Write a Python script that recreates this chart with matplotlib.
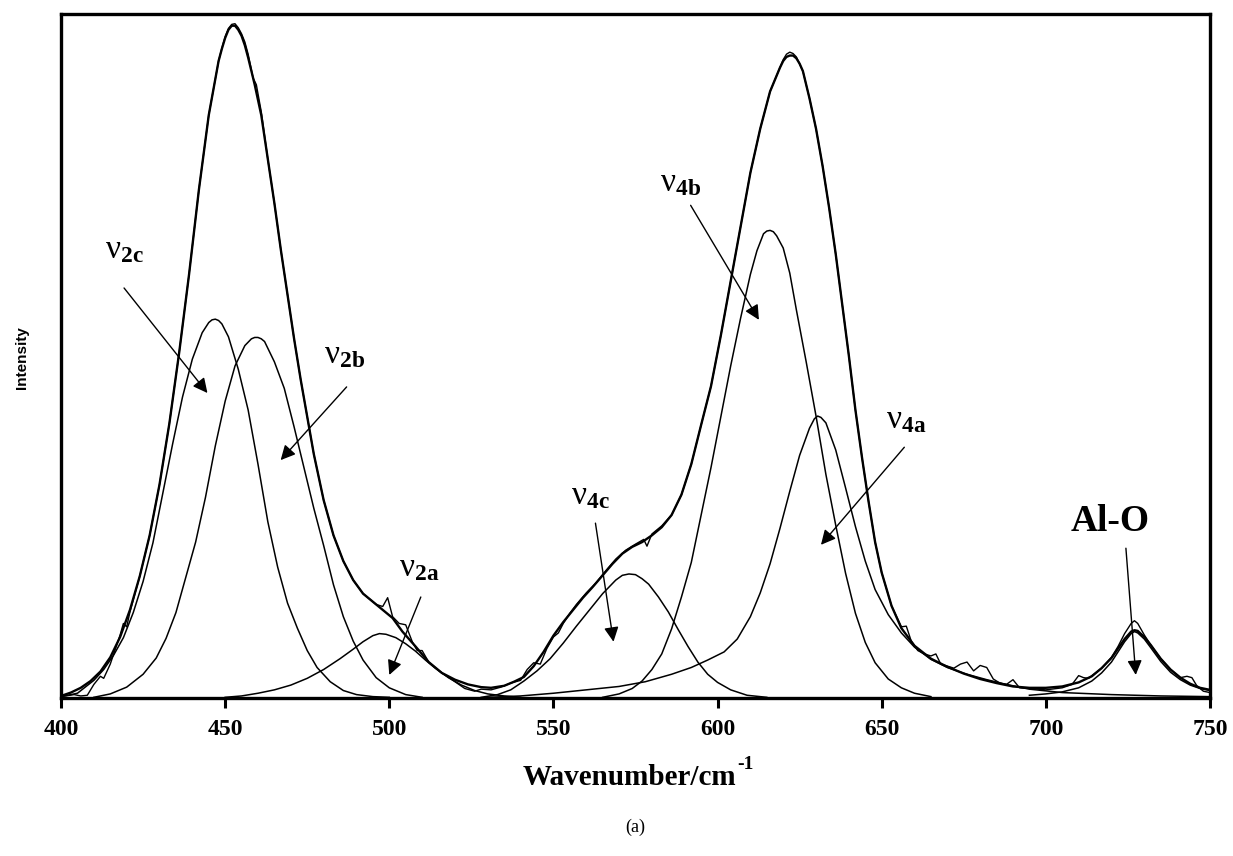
import matplotlib
matplotlib.use("Agg")
import matplotlib.pyplot as plt

plt.rcParams["mathtext.fontset"] = "custom"
plt.rcParams["mathtext.rm"] = "Liberation Serif"
plt.rcParams["mathtext.bf"] = "Liberation Serif:bold"
plt.rcParams["mathtext.it"] = "Liberation Serif:italic"

# fitted component bands (wavenumber, intensity)
v2c_x = [400, 405, 410, 413, 416, 419, 422, 425, 428, 431, 434, 437, 440, 443, 445, 446, 447, 448,
         449, 451, 454, 457, 460, 463, 466, 469, 472, 475, 478, 482, 486, 490, 495, 500]
v2c_y = [0.2, 0.7, 2.6, 4.2, 6.3, 8.9, 12.6, 17.2, 22.9, 30.2, 37.5, 44.4, 50.0, 53.9, 55.4, 55.8, 55.9, 55.7,
         55.2, 53.3, 48.5, 42.5, 34.5, 26.0, 19.3, 14.0, 10.3, 7.0, 4.5, 2.4, 1.1, 0.5, 0.2, 0.1]

v2b_x = [410, 415, 420, 425, 429, 432, 435, 438, 441, 444, 447, 450, 453, 456, 458, 459, 460, 461,
         462, 465, 468, 471, 474, 477, 480, 483, 486, 489, 492, 496, 500, 505, 510]
v2b_y = [0.1, 0.6, 1.6, 3.5, 5.9, 8.8, 12.6, 17.8, 23.0, 29.6, 37.2, 43.8, 49.0, 52.0, 53.0, 53.2, 53.2, 53.0,
         52.6, 49.6, 45.7, 40.0, 34.0, 28.0, 22.5, 16.7, 12.0, 8.4, 5.6, 3.0, 1.5, 0.5, 0.1]

v2a_x = [450, 455, 460, 465, 470, 475, 480, 485, 489, 492, 495, 497, 499, 502, 505, 508,
         511, 514, 518, 522, 526, 530, 535, 540]
v2a_y = [0.1, 0.3, 0.7, 1.2, 1.9, 2.9, 4.2, 5.8, 7.2, 8.3, 9.2, 9.5, 9.4, 8.9, 8.0, 6.9,
         5.6, 4.4, 3.0, 1.9, 1.1, 0.6, 0.3, 0.1]

v4c_x = [528, 533, 537, 541, 545, 549, 553, 557, 561, 565, 569, 571, 573, 575, 577, 579, 582, 585,
         588, 591, 594, 597, 600, 604, 609, 615]
v4c_y = [0.1, 0.5, 1.2, 2.5, 4.0, 5.8, 8.1, 10.6, 13.0, 15.4, 17.4, 18.1, 18.3, 18.2, 17.6, 16.8, 14.9, 12.7,
         10.1, 7.6, 5.3, 3.5, 2.3, 1.2, 0.4, 0.1]

v4b_x = [565, 570, 574, 577, 580, 583, 586, 589, 592, 595, 598, 601, 604, 607, 610, 612, 614, 615,
         616, 617, 618, 620, 622, 624, 627, 630, 633, 636, 639, 642, 645, 648, 652, 656, 660, 665]
v4b_y = [0.1, 0.6, 1.4, 2.5, 4.2, 6.5, 10.2, 14.9, 20.0, 27.0, 34.0, 41.5, 49.0, 56.0, 62.5, 66.0, 68.5, 68.9,
         69.0, 68.8, 68.2, 66.4, 62.7, 57.3, 49.6, 41.6, 33.0, 25.5, 18.4, 12.5, 8.2, 5.2, 2.8, 1.5, 0.7, 0.2]

v4a_x = [530, 540, 550, 560, 570, 578, 586, 592, 597, 602, 606, 610, 613, 616, 619, 622, 625,
         628, 629.5, 630.5, 631.5, 633, 636, 639, 642, 645, 648, 652, 656, 660, 665, 670, 676, 682,
         688, 695, 705, 720, 735, 750]
v4a_y = [0.1, 0.3, 0.7, 1.2, 1.7, 2.4, 3.5, 4.5, 5.6, 6.8, 8.7, 12.0, 15.5, 19.8, 25.0, 30.5, 35.8,
         39.8, 41.2, 41.6, 41.4, 40.6, 36.6, 31.0, 25.3, 20.2, 16.0, 12.3, 9.6, 7.5, 5.7, 4.5, 3.5, 2.7,
         2.0, 1.3, 0.8, 0.5, 0.3, 0.2]

alo_x = [695, 700, 705, 710, 714, 717, 720, 722, 724, 726, 727, 728, 730, 732, 735, 738, 741,
         744, 747, 750]
alo_y = [0.4, 0.6, 0.9, 1.5, 2.5, 3.7, 5.3, 6.8, 8.3, 9.5, 9.8, 9.6, 8.7, 7.4, 5.4, 3.8, 2.7,
         1.9, 1.4, 1.1]

# overall fitted envelope
fit_x = [400, 403, 406, 409, 412, 415, 418, 421, 424, 427, 430, 433, 436, 439, 442, 445, 448,
         449, 450, 451, 452, 453, 454, 455, 456, 457, 459, 461, 463, 465, 467, 469, 471, 473, 475,
         477, 480, 483, 486, 489, 492, 495, 498, 501, 504, 508, 512, 516, 520, 524, 528, 531, 535,
         538, 541, 544, 547, 550, 553, 556, 559, 562, 565, 568, 571, 574, 577, 580, 583, 586, 589,
         592, 595, 598, 601, 604, 607, 610, 613, 616, 619, 620, 621, 622, 623, 624, 625, 626, 628,
         630, 632, 634, 636, 638, 640, 642, 644, 646, 648, 650, 653, 656, 660, 665, 670, 675, 680,
         685, 690, 695, 700, 705, 710, 714, 717, 720, 722, 724, 726, 727, 728, 730, 732, 735, 738,
         741, 744, 747, 750]
fit_y = [0.3, 0.8, 1.5, 2.5, 3.9, 6.0, 9.0, 13.0, 18.0, 24.0, 31.5, 40.5, 51.0, 62.5, 75.0, 86.0, 94.0,
         95.8, 97.4, 98.6, 99.2, 99.2, 98.6, 97.7, 96.3, 94.5, 90.5, 86.0, 79.5, 73.0, 66.0, 59.5, 53.0, 47.0, 41.5,
         36.0, 29.2, 24.0, 20.2, 17.4, 15.4, 14.2, 13.0, 11.8, 9.8, 7.6, 5.3, 3.7, 2.7, 2.0, 1.6, 1.5, 1.8,
         2.4, 3.1, 4.7, 6.8, 9.2, 11.2, 13.0, 14.8, 16.4, 18.1, 19.8, 21.3, 22.3, 23.0, 24.0, 25.2, 27.0, 30.0,
         34.5, 40.3, 46.0, 53.5, 61.5, 69.5, 77.5, 84.0, 89.5, 93.0, 94.0, 94.6, 94.8, 94.8, 94.4, 93.6, 92.5, 88.5,
         84.0, 78.5, 72.3, 65.5, 58.0, 50.5, 42.5, 35.5, 29.0, 23.0, 18.5, 13.6, 10.3, 7.7, 5.8, 4.6, 3.6, 2.8,
         2.2, 1.7, 1.5, 1.5, 1.7, 2.3, 3.2, 4.4, 5.9, 7.3, 8.7, 9.8, 10.0, 9.9, 9.0, 7.8, 5.8, 4.2,
         3.0, 2.1, 1.5, 1.2]

# measured spectrum
obs_x = [400, 404, 406, 408, 410, 412, 413, 415, 418, 419, 420, 421, 424, 427, 430, 433, 436, 439,
         442, 445, 448, 449, 450, 451, 452, 453, 454, 455, 456, 457, 458.5, 459.5, 461, 463, 465,
         467, 469, 471, 473, 475, 477, 480, 483, 486, 489, 492, 494, 496, 498, 499.5, 501, 503,
         505, 507, 508.5, 510, 512, 516, 520, 523, 526, 528, 531, 534, 537, 540, 542, 544, 546,
         548, 550, 551.5, 553, 555, 557, 560, 563, 566, 569, 572, 575, 577.5, 578.5, 580, 583, 586,
         589, 592, 595, 598, 601, 604, 607, 610, 613, 616, 619, 620, 621, 622, 623, 624, 626, 628,
         630, 632, 634, 636, 638, 640, 642, 644, 646, 648, 650, 653, 656, 657.5, 659, 661, 663, 665,
         666.5, 668, 670, 672, 674, 676, 678, 680, 682, 684, 686, 688, 690, 692, 695, 700, 705, 708,
         710, 711.5, 713, 717, 720, 722, 724, 726, 727, 728, 730, 732, 735, 738, 741, 743, 744.5,
         746, 748, 750]
obs_y = [0.2, 0.5, 0.3, 0.4, 2.0, 3.2, 2.9, 5.0, 9.3, 11.0, 10.5, 12.7, 18.0, 24.0, 31.5, 40.5, 51.0, 62.5,
         75.0, 86.0, 94.0, 95.9, 97.6, 98.8, 99.4, 99.5, 98.9, 98.0, 96.8, 95.0, 91.5, 90.5, 86.5, 79.5, 73.0,
         66.0, 59.5, 53.0, 47.0, 41.5, 36.0, 29.2, 24.0, 20.2, 17.4, 15.4, 14.6, 13.8, 13.5, 14.8, 12.0, 11.0,
         10.8, 8.3, 7.0, 7.0, 5.3, 3.7, 2.4, 1.4, 1.0, 1.3, 1.2, 1.6, 2.2, 2.6, 4.2, 5.2, 5.0,
         7.3, 9.0, 9.6, 11.0, 12.5, 13.8, 15.5, 17.0, 18.8, 20.5, 21.8, 22.7, 23.4, 22.4, 24.2, 25.4, 27.0,
         30.0, 34.5, 40.3, 46.0, 53.5, 61.5, 69.5, 77.5, 84.0, 89.5, 93.0, 94.2, 95.0, 95.3, 95.1, 94.6, 92.5, 88.5,
         84.0, 78.5, 72.3, 65.5, 58.0, 50.5, 42.5, 35.5, 29.0, 23.0, 18.5, 13.6, 10.5, 10.6, 8.4, 7.0, 6.5, 6.2,
         6.5, 5.0, 4.7, 4.4, 5.0, 5.3, 4.0, 4.8, 4.5, 2.8, 2.2, 2.0, 2.7, 1.5, 1.4, 1.2, 1.5, 2.0,
         3.3, 3.0, 2.9, 4.4, 6.0, 7.6, 9.5, 11.0, 11.4, 11.0, 9.3, 7.8, 5.8, 4.2, 3.0, 3.2, 3.0,
         1.8, 1.0, 0.8]

xticks = [400, 450, 500, 550, 600, 650, 700, 750]

# band labels: text, label position, arrow start, arrow tip
labels = [r"$\mathrm{\nu}_{\mathbf{2c}}$", r"$\mathrm{\nu}_{\mathbf{2b}}$", r"$\mathrm{\nu}_{\mathbf{2a}}$",
          r"$\mathrm{\nu}_{\mathbf{4c}}$", r"$\mathrm{\nu}_{\mathbf{4b}}$", r"$\mathrm{\nu}_{\mathbf{4a}}$", "Al-O"]
label_pos = [(419.2, 66.1), (486.4, 50.6), (509.0, 19.2), (561.3, 29.8), (588.8, 76.1), (657.5, 41.0), (719.5, 26.0)]
arrow_from = [(419.2, 60.5), (487.0, 45.9), (509.6, 14.9), (562.8, 25.8), (591.8, 72.7), (656.9, 37.0), (724.4, 22.1)]
arrow_to = [(444.6, 45.0), (466.9, 35.1), (500.0, 3.4), (568.3, 8.3), (612.6, 55.8), (631.5, 22.6), (727.4, 3.4)]

fig = plt.figure(figsize=(12.33, 8.56), dpi=100)
ax = fig.add_axes([0.0495, 0.1846, 0.9318, 0.7996])

for cx, cy in [(v2c_x, v2c_y), (v2b_x, v2b_y), (v2a_x, v2a_y), (v4c_x, v4c_y),
               (v4b_x, v4b_y), (v4a_x, v4a_y), (alo_x, alo_y)]:
    ax.plot(cx, cy, color="black", lw=1.1)
ax.plot(fit_x, fit_y, color="black", lw=1.7)
ax.plot(obs_x, obs_y, color="black", lw=1.0)

for i, lab in enumerate(labels):
    size = 27 if lab == "Al-O" else 24
    ax.text(label_pos[i][0], label_pos[i][1], lab, fontsize=size, fontweight="bold",
            family="Liberation Serif", ha="center", va="center")
    ax.annotate("", xy=arrow_to[i], xytext=arrow_from[i],
                arrowprops=dict(arrowstyle="-|>", color="black", lw=1.0,
                                mutation_scale=22, shrinkA=0, shrinkB=0))

ax.set_xlim(400, 750)
ax.set_ylim(0, 101)
ax.set_xticks(xticks)
ax.set_yticks([])
ax.tick_params(axis="x", direction="out", length=7, width=2.2, pad=8)
for lbl in ax.get_xticklabels():
    lbl.set_fontfamily("Liberation Serif")
    lbl.set_fontweight("bold")
    lbl.set_fontsize(17)
for sp in ax.spines.values():
    sp.set_linewidth(2.4)

fig.text(0.597, 0.092, "Wavenumber/cm", fontsize=21, fontweight="bold",
         family="Liberation Serif", ha="right", va="center")
fig.text(0.598, 0.107, "-1", fontsize=14, fontweight="bold",
         family="Liberation Serif", ha="left", va="center")
fig.text(0.515, 0.033, "(a)", fontsize=13, family="Liberation Serif", ha="center", va="center")
fig.text(0.018, 0.582, "Intensity", fontsize=11, fontweight="bold", family="Liberation Sans",
         rotation=90, ha="center", va="center")

fig.savefig("out.png", dpi=100)
